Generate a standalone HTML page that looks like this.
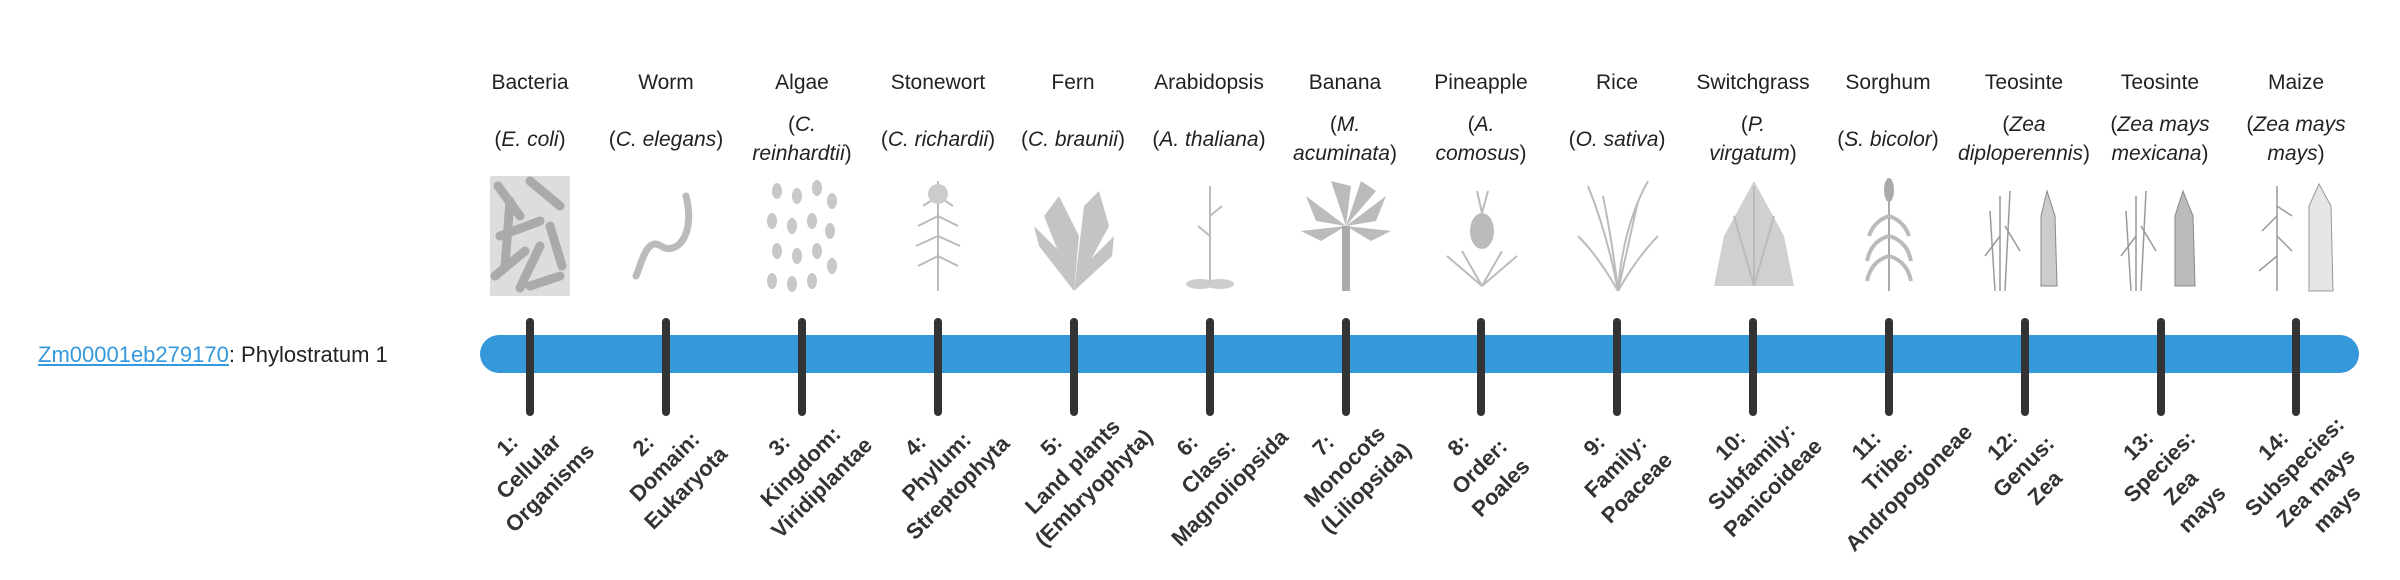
<!DOCTYPE html>
<html><head><meta charset="utf-8">
<style>
html,body{margin:0;padding:0;background:#fff;width:2400px;height:580px;overflow:hidden;font-family:"Liberation Sans",sans-serif;color:#222}
#w{position:relative;width:2400px;height:580px;overflow:hidden}
.h{position:absolute;top:68px;width:140px;text-align:center;font-size:21px;line-height:29px;white-space:nowrap}
.s{position:absolute;top:110px;width:140px;height:58px;display:flex;align-items:center;justify-content:center;text-align:center;font-size:21px;line-height:29px;white-space:nowrap}
.im{position:absolute;top:176px;width:100px;height:120px}
.bar{position:absolute;left:480px;top:335px;width:1879px;height:38px;background:#3498db;border-radius:19px}
.t{position:absolute;top:318px;width:8px;height:98px;background:#333;border-radius:4px}
.l{position:absolute;top:435px;width:200px;margin-left:50px;text-align:center;font-weight:bold;font-size:22px;line-height:30px;color:#333;transform-origin:50% 0;transform:rotate(-45deg);white-space:nowrap}
.left{position:absolute;left:38px;top:340px;font-size:22px;line-height:30px;color:#222}
.left a{color:#3498db;text-decoration:underline}
</style></head><body><div id="w">
<div class="left"><a>Zm00001eb279170</a>: Phylostratum 1</div>

<div class="h" style="left:460px">Bacteria</div>
<div class="h" style="left:596px">Worm</div>
<div class="h" style="left:732px">Algae</div>
<div class="h" style="left:868px">Stonewort</div>
<div class="h" style="left:1003px">Fern</div>
<div class="h" style="left:1139px">Arabidopsis</div>
<div class="h" style="left:1275px">Banana</div>
<div class="h" style="left:1411px">Pineapple</div>
<div class="h" style="left:1547px">Rice</div>
<div class="h" style="left:1683px">Switchgrass</div>
<div class="h" style="left:1818px">Sorghum</div>
<div class="h" style="left:1954px">Teosinte</div>
<div class="h" style="left:2090px">Teosinte</div>
<div class="h" style="left:2226px">Maize</div>

<div class="s" style="left:460px"><span>(<i>E. coli</i>)</span></div>
<div class="s" style="left:596px"><span>(<i>C. elegans</i>)</span></div>
<div class="s" style="left:732px"><span>(<i>C.</i><br><i>reinhardtii</i>)</span></div>
<div class="s" style="left:868px"><span>(<i>C. richardii</i>)</span></div>
<div class="s" style="left:1003px"><span>(<i>C. braunii</i>)</span></div>
<div class="s" style="left:1139px"><span>(<i>A. thaliana</i>)</span></div>
<div class="s" style="left:1275px"><span>(<i>M.</i><br><i>acuminata</i>)</span></div>
<div class="s" style="left:1411px"><span>(<i>A.</i><br><i>comosus</i>)</span></div>
<div class="s" style="left:1547px"><span>(<i>O. sativa</i>)</span></div>
<div class="s" style="left:1683px"><span>(<i>P.</i><br><i>virgatum</i>)</span></div>
<div class="s" style="left:1818px"><span>(<i>S. bicolor</i>)</span></div>
<div class="s" style="left:1954px"><span>(<i>Zea</i><br><i>diploperennis</i>)</span></div>
<div class="s" style="left:2090px"><span>(<i>Zea mays</i><br><i>mexicana</i>)</span></div>
<div class="s" style="left:2226px"><span>(<i>Zea mays</i><br><i>mays</i>)</span></div>

<svg class="im" style="left:480px" viewBox="0 0 100 120"><rect x="10" y="0" width="80" height="120" fill="#ddd"/><g stroke="#aaa" stroke-width="9" stroke-linecap="round"><line x1="18" y1="10" x2="40" y2="40"/><line x1="50" y1="5" x2="80" y2="30"/><line x1="20" y1="60" x2="60" y2="45"/><line x1="70" y1="50" x2="82" y2="90"/><line x1="15" y1="100" x2="45" y2="75"/><line x1="50" y1="110" x2="80" y2="100"/><line x1="30" y1="25" x2="25" y2="90"/><line x1="60" y1="70" x2="40" y2="112"/></g></svg>
<svg class="im" style="left:616px" viewBox="0 0 100 120"><path d="M70 20 C80 60 60 80 45 70 C30 60 25 90 20 100" fill="none" stroke="#bbb" stroke-width="7" stroke-linecap="round"/></svg>
<svg class="im" style="left:752px" viewBox="0 0 100 120"><g fill="#c8c8c8"><ellipse cx="25" cy="15" rx="5" ry="8"/><ellipse cx="45" cy="20" rx="5" ry="8"/><ellipse cx="65" cy="12" rx="5" ry="8"/><ellipse cx="80" cy="25" rx="5" ry="8"/><ellipse cx="20" cy="45" rx="5" ry="8"/><ellipse cx="40" cy="50" rx="5" ry="8"/><ellipse cx="60" cy="45" rx="5" ry="8"/><ellipse cx="78" cy="55" rx="5" ry="8"/><ellipse cx="25" cy="75" rx="5" ry="8"/><ellipse cx="45" cy="80" rx="5" ry="8"/><ellipse cx="65" cy="75" rx="5" ry="8"/><ellipse cx="80" cy="90" rx="5" ry="8"/><ellipse cx="20" cy="105" rx="5" ry="8"/><ellipse cx="40" cy="108" rx="5" ry="8"/><ellipse cx="60" cy="105" rx="5" ry="8"/></g></svg>
<svg class="im" style="left:888px" viewBox="0 0 100 120"><g stroke="#bbb" stroke-width="2" fill="none"><line x1="50" y1="5" x2="50" y2="115"/><path d="M50 40 L30 50 M50 40 L70 50 M50 60 L28 70 M50 60 L72 70 M50 80 L30 90 M50 80 L70 90 M50 20 L35 30 M50 20 L65 30"/></g><circle cx="50" cy="18" r="10" fill="#ccc"/></svg>
<svg class="im" style="left:1024px" viewBox="0 0 100 120"><g fill="#c4c4c4"><path d="M50 115 L20 40 L35 20 L55 60 Z"/><path d="M50 115 L60 30 L75 15 L85 50 Z"/><path d="M50 115 L15 70 L10 50 L40 80 Z"/><path d="M50 115 L88 80 L90 60 L60 90 Z"/></g></svg>
<svg class="im" style="left:1160px" viewBox="0 0 100 120"><g stroke="#bbb" stroke-width="2" fill="none"><line x1="50" y1="10" x2="50" y2="110"/><path d="M50 40 L62 30 M50 60 L38 50"/></g><ellipse cx="40" cy="108" rx="14" ry="5" fill="#ccc"/><ellipse cx="60" cy="108" rx="14" ry="5" fill="#ccc"/></svg>
<svg class="im" style="left:1296px" viewBox="0 0 100 120"><g fill="#bbb"><path d="M50 50 L10 20 L20 45 Z"/><path d="M50 50 L90 20 L80 45 Z"/><path d="M50 50 L35 5 L55 10 Z"/><path d="M50 50 L65 5 L80 15 Z"/><path d="M50 50 L5 55 L25 65 Z"/><path d="M50 50 L95 55 L75 65 Z"/></g><rect x="46" y="50" width="8" height="65" fill="#aaa"/></svg>
<svg class="im" style="left:1432px" viewBox="0 0 100 120"><ellipse cx="50" cy="55" rx="12" ry="18" fill="#bbb"/><g stroke="#bbb" stroke-width="2"><line x1="50" y1="110" x2="15" y2="80"/><line x1="50" y1="110" x2="85" y2="80"/><line x1="50" y1="110" x2="30" y2="75"/><line x1="50" y1="110" x2="70" y2="75"/><line x1="50" y1="37" x2="45" y2="15"/><line x1="50" y1="37" x2="56" y2="15"/></g></svg>
<svg class="im" style="left:1568px" viewBox="0 0 100 120"><g stroke="#bbb" stroke-width="2" fill="none"><path d="M50 115 Q40 60 20 10 M50 115 Q55 50 80 5 M50 115 Q45 70 35 20 M50 115 Q60 70 70 25 M50 115 Q30 80 10 60 M50 115 Q70 80 90 60"/></g></svg>
<svg class="im" style="left:1704px" viewBox="0 0 100 120"><path d="M50 5 L80 60 L90 110 L10 110 L20 60 Z" fill="#d0d0d0"/><g stroke="#bbb" stroke-width="2"><line x1="50" y1="110" x2="30" y2="40"/><line x1="50" y1="110" x2="70" y2="40"/><line x1="50" y1="110" x2="50" y2="10"/></g></svg>
<svg class="im" style="left:1839px" viewBox="0 0 100 120"><ellipse cx="50" cy="14" rx="5" ry="12" fill="#aaa"/><line x1="50" y1="20" x2="50" y2="115" stroke="#aaa" stroke-width="2"/><g fill="none" stroke="#bbb" stroke-width="4"><path d="M50 40 Q35 45 30 60 M50 40 Q65 45 70 60 M50 60 Q32 65 28 85 M50 60 Q68 65 72 85 M50 80 Q32 85 28 105 M50 80 Q68 85 72 105"/></g></svg>
<svg class="im" style="left:1975px" viewBox="0 0 100 120"><g stroke="#999" stroke-width="1.5" fill="none"><path d="M25 115 L25 20 M30 115 L35 15 M20 115 L15 35 M25 60 L10 80 M30 50 L45 75"/></g><path d="M72 15 L80 40 L82 110 L66 110 L66 40 Z" fill="#ccc" stroke="#888"/></svg>
<svg class="im" style="left:2111px" viewBox="0 0 100 120"><g stroke="#999" stroke-width="1.5" fill="none"><path d="M25 115 L25 20 M30 115 L35 15 M20 115 L15 35 M25 60 L10 80 M30 50 L45 75"/></g><path d="M72 15 L82 40 L84 110 L64 110 L64 40 Z" fill="#bbb" stroke="#888"/></svg>
<svg class="im" style="left:2247px" viewBox="0 0 100 120"><g stroke="#999" stroke-width="1.5" fill="none"><path d="M30 115 L30 10 M30 40 L15 55 M30 60 L45 75 M30 80 L12 95 M30 30 L45 40"/></g><path d="M72 8 L84 30 L86 115 L62 115 L62 30 Z" fill="#e6e6e6" stroke="#999"/></svg>

<div class="bar"></div>
<div class="t" style="left:526px"></div>
<div class="t" style="left:662px"></div>
<div class="t" style="left:798px"></div>
<div class="t" style="left:934px"></div>
<div class="t" style="left:1070px"></div>
<div class="t" style="left:1206px"></div>
<div class="t" style="left:1342px"></div>
<div class="t" style="left:1477px"></div>
<div class="t" style="left:1613px"></div>
<div class="t" style="left:1749px"></div>
<div class="t" style="left:1885px"></div>
<div class="t" style="left:2021px"></div>
<div class="t" style="left:2157px"></div>
<div class="t" style="left:2292px"></div>

<div class="l" style="left:347px">1:<br>Cellular<br>Organisms</div>
<div class="l" style="left:483px">2:<br>Domain:<br>Eukaryota</div>
<div class="l" style="left:619px">3:<br>Kingdom:<br>Viridiplantae</div>
<div class="l" style="left:755px">4:<br>Phylum:<br>Streptophyta</div>
<div class="l" style="left:891px">5:<br>Land plants<br>(Embryophyta)</div>
<div class="l" style="left:1027px">6:<br>Class:<br>Magnoliopsida</div>
<div class="l" style="left:1163px">7:<br>Monocots<br>(Liliopsida)</div>
<div class="l" style="left:1298px">8:<br>Order:<br>Poales</div>
<div class="l" style="left:1434px">9:<br>Family:<br>Poaceae</div>
<div class="l" style="left:1570px">10:<br>Subfamily:<br>Panicoideae</div>
<div class="l" style="left:1706px">11:<br>Tribe:<br>Andropogoneae</div>
<div class="l" style="left:1842px">12:<br>Genus:<br>Zea</div>
<div class="l" style="left:1978px">13:<br>Species:<br>Zea<br>mays</div>
<div class="l" style="left:2113px">14:<br>Subspecies:<br>Zea mays<br>mays</div>
</div></body></html>
